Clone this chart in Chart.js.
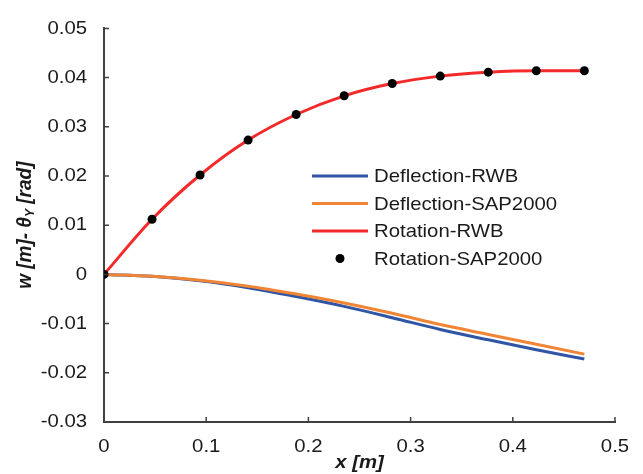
<!DOCTYPE html>
<html>
<head>
<meta charset="utf-8">
<script src="https://cdn.jsdelivr.net/npm/chart.js@4.4.1/dist/chart.umd.min.js"></script>
<style>
  html, body { margin: 0; padding: 0; background: #ffffff; }
  #wrap { width: 643px; height: 474px; }
</style>
</head>
<body>
<div id="wrap"><canvas id="c" width="643" height="474"></canvas></div>
<script>
// Positions along the member [m]
const xPos = [0, 0.047, 0.094, 0.141, 0.188, 0.235, 0.282, 0.329, 0.376, 0.423, 0.47];
// Vertical deflection w [m]
const deflectionRWB = [0, -0.0004, -0.0013, -0.0027, -0.0045, -0.0065, -0.0088, -0.0112, -0.0133, -0.0153, -0.0172];
const deflectionSAP = [0, -0.0004, -0.0012, -0.0024, -0.0040, -0.0058, -0.0079, -0.0102, -0.0122, -0.0142, -0.0162];
// Rotation theta_Y [rad]
const rotationRWB = [0, 0.0112, 0.0202, 0.0273, 0.0325, 0.0363, 0.0388, 0.0403, 0.0411, 0.0414, 0.0414];
const rotationSAP = [0, 0.0112, 0.0202, 0.0273, 0.0325, 0.0363, 0.0388, 0.0403, 0.0411, 0.0414, 0.0414];
// Axis ranges and tick steps
const xRange = [0, 0.5];
const xStep = 0.1;
const yRange = [-0.03, 0.05];
const yStep = 0.01;
const seriesLabels = ['Deflection-RWB', 'Deflection-SAP2000', 'Rotation-RWB', 'Rotation-SAP2000'];

const FONT = '"Liberation Sans", Arial, sans-serif';
const FS = 19;
const TEXT_STRETCH = 1.07;   // slightly wide lettering
const INK = '#1a1a1a';
const AXIS = '#404040';

const pts = (ys) => xPos.map((x, i) => ({ x: x, y: ys[i] }));

// Draw every label horizontally widened around its anchor point.
function widenText(ctx) {
  const orig = ctx.fillText;
  ctx.fillText = function (t, x, y) {
    const m = this.getTransform();
    const p = m.transformPoint(new DOMPoint(x, y));
    this.save();
    this.setTransform(TEXT_STRETCH * m.a, m.b, TEXT_STRETCH * m.c, m.d, p.x, p.y);
    orig.call(this, t, 0, 0);
    this.restore();
  };
}

const fmt = (v, d) => Math.abs(v) < 1e-9 ? '0' : v.toFixed(d);

// Small tick marks pointing into the plot area
const innerTicks = {
  id: 'innerTicks',
  afterDatasetsDraw(chart) {
    const { ctx, chartArea: a, scales: { x, y } } = chart;
    ctx.save();
    ctx.strokeStyle = AXIS;
    ctx.lineWidth = 1.5;
    ctx.beginPath();
    x.ticks.forEach(t => {
      const px = x.getPixelForValue(t.value);
      if (Math.abs(px - a.left) < 1) return;
      ctx.moveTo(px, a.bottom); ctx.lineTo(px, a.bottom - 5);
    });
    y.ticks.forEach(t => {
      const py = y.getPixelForValue(t.value);
      if (Math.abs(py - a.bottom) < 1) return;
      ctx.moveTo(a.left, py); ctx.lineTo(a.left + 5, py);
    });
    ctx.stroke();
    ctx.restore();
  }
};

// Vertical axis title with subscript
const yTitle = {
  id: 'yTitle',
  afterDraw(chart) {
    const { ctx, chartArea: a } = chart;
    const main = 'bold italic ' + FS + 'px ' + FONT;
    const sub = 'bold italic 12px ' + FONT;
    const parts = [['w [m]- \u03b8', main, 0], ['Y', sub, 5], [' [rad]', main, 0]];
    ctx.save();
    let total = 0;
    parts.forEach(p => { ctx.font = p[1]; total += ctx.measureText(p[0]).width; });
    ctx.translate(25, (a.top + a.bottom) / 2);
    ctx.rotate(-Math.PI / 2);
    ctx.fillStyle = INK;
    ctx.textBaseline = 'middle';
    ctx.textAlign = 'left';
    let cx = -total / 2;
    parts.forEach(p => {
      ctx.font = p[1];
      ctx.fillText(p[0], cx, p[2]);
      cx += ctx.measureText(p[0]).width;
    });
    ctx.restore();
  }
};

// Legend box inside the plot area
const innerLegend = {
  id: 'innerLegend',
  afterDraw(chart) {
    const { ctx } = chart;
    const x0 = 312, len = 56, tx = 374, y0 = 176, dy = 27.5;
    ctx.save();
    ctx.font = FS + 'px ' + FONT;
    ctx.textBaseline = 'middle';
    ctx.textAlign = 'left';
    chart.data.datasets.forEach((ds, i) => {
      const yy = y0 + i * dy;
      if (ds.showLine === false) {
        ctx.fillStyle = ds.pointBackgroundColor;
        ctx.beginPath();
        ctx.arc(x0 + len / 2, yy, ds.pointRadius, 0, Math.PI * 2);
        ctx.fill();
      } else {
        ctx.strokeStyle = ds.borderColor;
        ctx.lineWidth = ds.borderWidth;
        ctx.beginPath();
        ctx.moveTo(x0, yy); ctx.lineTo(x0 + len, yy);
        ctx.stroke();
      }
      ctx.fillStyle = INK;
      ctx.fillText(ds.label, tx, yy + 1);
    });
    ctx.restore();
  }
};

const canvas = document.getElementById('c');
widenText(canvas.getContext('2d'));

new Chart(canvas, {
  type: 'scatter',
  data: {
    datasets: [
      { label: seriesLabels[0], data: pts(deflectionRWB), showLine: true, borderColor: '#2f55a4',
        borderWidth: 3, pointRadius: 0, cubicInterpolationMode: 'monotone', order: 3 },
      { label: seriesLabels[1], data: pts(deflectionSAP), showLine: true, borderColor: '#f08536',
        borderWidth: 3, pointRadius: 0, cubicInterpolationMode: 'monotone', order: 2 },
      { label: seriesLabels[2], data: pts(rotationRWB), showLine: true, borderColor: '#f42a2a',
        borderWidth: 3, pointRadius: 0, cubicInterpolationMode: 'monotone', order: 1 },
      { label: seriesLabels[3], data: pts(rotationSAP), showLine: false, pointRadius: 4.5,
        pointBackgroundColor: '#000000', pointBorderWidth: 0, borderColor: '#000000', order: 0 }
    ]
  },
  options: {
    responsive: false,
    animation: false,
    events: [],
    layout: { padding: { left: 0, top: 17, right: 28, bottom: 0 } },
    plugins: { legend: { display: false }, tooltip: { enabled: false } },
    scales: {
      x: {
        type: 'linear', min: xRange[0], max: xRange[1],
        afterFit: s => { s.height = 52; },
        border: { display: true, color: AXIS, width: 2 },
        grid: { display: false, drawTicks: false },
        ticks: { stepSize: xStep, padding: 13, color: INK, font: { family: FONT, size: FS },
                 maxRotation: 0, callback: v => fmt(v, 1) },
        title: { display: true, text: 'x [m]', color: INK, padding: { top: 0, bottom: 0 },
                 font: { family: FONT, size: FS, weight: 'bold', style: 'italic' } }
      },
      y: {
        type: 'linear', min: yRange[0], max: yRange[1],
        afterFit: s => { s.width = 104; },
        border: { display: true, color: AXIS, width: 2 },
        grid: { display: false, drawTicks: false },
        ticks: { stepSize: yStep, padding: 17, color: INK, font: { family: FONT, size: FS },
                 callback: v => fmt(v, 2) }
      }
    }
  },
  plugins: [innerTicks, yTitle, innerLegend]
});
</script>
</body>
</html>
